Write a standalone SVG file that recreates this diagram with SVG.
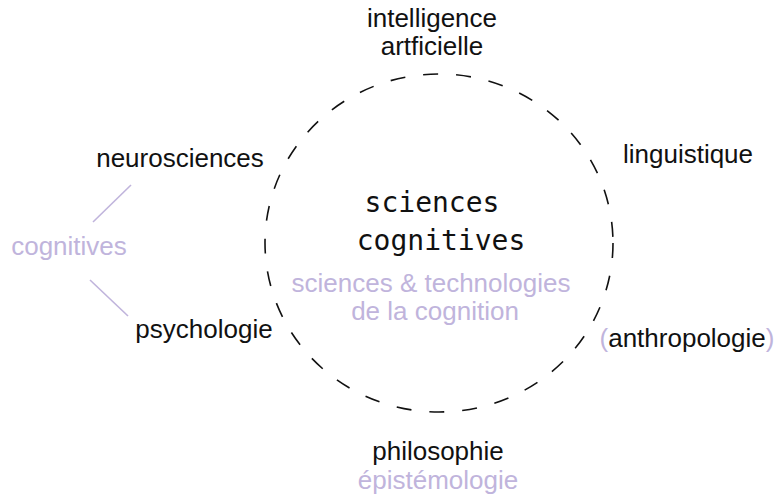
<svg xmlns="http://www.w3.org/2000/svg" width="778" height="495" viewBox="0 0 778 495">
<style>
.t{font-family:"Liberation Sans",Arial,sans-serif;font-size:26px;fill:#111}
.l{fill:#c0b4dc}
.m{font-family:"DejaVu Sans Mono","Liberation Mono",monospace;font-size:28px;fill:#111}
.c{stroke:#c0b4dc;stroke-width:1.6;fill:none}
</style>
<rect width="778" height="495" fill="#fff"/>
<g id="connectors">
<ellipse cx="439" cy="243" rx="174" ry="169" fill="none" stroke="#111" stroke-width="1.6" stroke-dasharray="15 18"/>
<line class="c" x1="131" y1="185" x2="93" y2="222"/>
<line class="c" x1="90" y1="280" x2="128" y2="316"/>
</g>
<g id="center">
<text class="m" x="432" y="212" text-anchor="middle">sciences</text>
<text class="m" x="441" y="250" text-anchor="middle">cognitives</text>
<text class="t l" x="431" y="292" text-anchor="middle">sciences &amp; technologies</text>
<text class="t l" x="435" y="320" text-anchor="middle">de la cognition</text>
</g>
<g id="ia"><text class="t" x="432" y="27" text-anchor="middle">intelligence</text><text class="t" x="432" y="55" text-anchor="middle">artficielle</text></g>
<g id="neuro"><text class="t" x="180" y="167" text-anchor="middle">neurosciences</text></g>
<g id="cognitives"><text class="t l" x="69" y="255" text-anchor="middle">cognitives</text></g>
<g id="psycho"><text class="t" x="204" y="338" text-anchor="middle">psychologie</text></g>
<g id="ling"><text class="t" x="688" y="163" text-anchor="middle">linguistique</text></g>
<g id="anthro"><text class="t" x="687" y="347" text-anchor="middle"><tspan class="l">(</tspan>anthropologie<tspan class="l">)</tspan></text></g>
<g id="philo"><text class="t" x="438" y="460" text-anchor="middle">philosophie</text><text class="t l" x="438" y="489" text-anchor="middle">épistémologie</text></g>
</svg>
